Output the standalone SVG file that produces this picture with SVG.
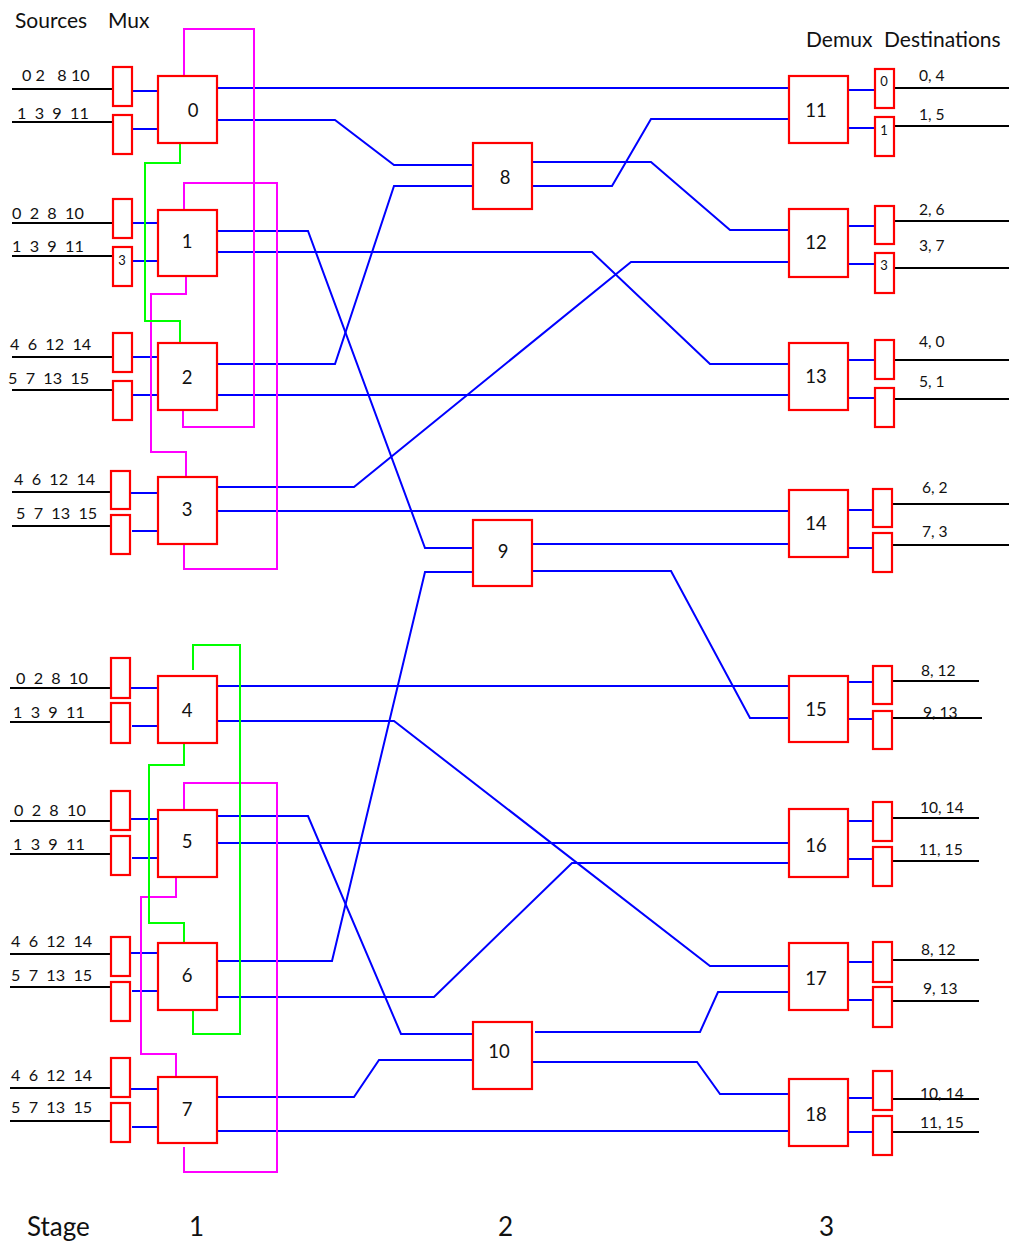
<svg xmlns="http://www.w3.org/2000/svg" width="1009" height="1243" viewBox="0 0 1009 1243">
<style>
text{font-family:Lato,"Open Sans","Liberation Sans",sans-serif;fill:#111;white-space:pre}
.sw{fill:#fff;stroke:#ff0000;stroke-width:2.2}
.mx{fill:#fff;stroke:#ff0000;stroke-width:2.2}
.bl{fill:none;stroke:#0000ff;stroke-width:2}
.bk{fill:none;stroke:#000;stroke-width:2}
.mg{fill:none;stroke:#ff00ff;stroke-width:2}
.gr{fill:none;stroke:#00ff00;stroke-width:2}
.lab{font-size:18.5px;text-anchor:middle;dominant-baseline:central}
.src{font-size:16.2px;dominant-baseline:central}
.dst{font-size:15.6px;dominant-baseline:central}
.tiny{font-size:13px;text-anchor:middle;dominant-baseline:central}
.hd{font-size:21px;dominant-baseline:central}
.st{font-size:26px;dominant-baseline:central}
</style>
<rect width="1009" height="1243" fill="#fff"/>

<g id="headers">
<text class="hd" x="15" y="19">Sources</text>
<text class="hd" x="108" y="19">Mux</text>
<text class="hd" x="806" y="38">Demux</text>
<text class="hd" x="884" y="38">Destinations</text>
<text class="st" x="27" y="1226">Stage</text>
<text class="st" x="189" y="1226">1</text>
<text class="st" x="498" y="1226">2</text>
<text class="st" x="819" y="1226">3</text>
</g>

<g id="sources">
<path class="bk" d="M12,89H113M12,122H113M12,223H113M12,256H113M12,357H113M12,390H113M12,492H111M12,526H111M10,688H110M10,722H110M10,821H110M10,854H110M10,954H110M10,987H110M10,1088H110M10,1121H110"/>
<text class="src" x="22" y="74">0 2   8 10</text>
<text class="src" x="17" y="112">1  3  9  11</text>
<text class="src" x="12" y="212">0  2  8  10</text>
<text class="src" x="12" y="245">1  3  9  11</text>
<text class="src" x="10" y="343">4  6  12  14</text>
<text class="src" x="8" y="377">5  7  13  15</text>
<text class="src" x="14" y="478">4  6  12  14</text>
<text class="src" x="16" y="512">5  7  13  15</text>
<text class="src" x="16" y="677">0  2  8  10</text>
<text class="src" x="13" y="711">1  3  9  11</text>
<text class="src" x="14" y="809">0  2  8  10</text>
<text class="src" x="13" y="843">1  3  9  11</text>
<text class="src" x="11" y="940">4  6  12  14</text>
<text class="src" x="11" y="974">5  7  13  15</text>
<text class="src" x="11" y="1074">4  6  12  14</text>
<text class="src" x="11" y="1106">5  7  13  15</text>
</g>

<g id="destinations">
<path class="bk" d="M894,88H1009M894,126H1009M892,221H1009M892,268H1009M892,360H1009M892,399H1009M892,504H1009M892,545H1009M892,681H979M892,718H982M892,818H979M880,861H979M892,960H979M892,1001H979M892,1099H979M892,1132H979"/>
<text class="dst" x="919" y="75">0, 4</text>
<text class="dst" x="919" y="114">1, 5</text>
<text class="dst" x="919" y="209">2, 6</text>
<text class="dst" x="919" y="245">3, 7</text>
<text class="dst" x="919" y="341">4, 0</text>
<text class="dst" x="919" y="381">5, 1</text>
<text class="dst" x="922" y="487">6, 2</text>
<text class="dst" x="922" y="531">7, 3</text>
<text class="dst" x="921" y="670">8, 12</text>
<text class="dst" x="923" y="712">9, 13</text>
<text class="dst" x="920" y="807">10, 14</text>
<text class="dst" x="919" y="849">11, 15</text>
<text class="dst" x="921" y="949">8, 12</text>
<text class="dst" x="923" y="988">9, 13</text>
<text class="dst" x="920" y="1093">10, 14</text>
<text class="dst" x="920" y="1122">11, 15</text>
</g>

<g id="connectors">
<path class="bl" d="M132,91H158M132,129H158M132,223H158M132,261H158M132,357H158M132,395H158M130,493H158M132,531H158M130,688H158M132,726H158M130,819H158M132,858H158M130,953H158M132,991H158M130,1089H158M132,1127H158"/>
<path class="bl" d="M848,90H875M848,128H875M848,226H875M848,264H875M848,360H875M848,398H875M848,510H873M848,548H873M848,682H873M848,719H873M848,821H873M848,859H873M848,962H873M848,1000H873M848,1098H873M848,1132H873"/>
<path class="bl" d="M217,88H789"/>
<path class="bl" d="M217,120H335L394,165H473"/>
<path class="bl" d="M214,231H308L425,548H473"/>
<path class="bl" d="M217,252H592L710,364H789"/>
<path class="bl" d="M217,364H335L394,186H473"/>
<path class="bl" d="M217,395H789"/>
<path class="bl" d="M217,487H354L631,262H789"/>
<path class="bl" d="M217,511H789"/>
<path class="bl" d="M217,686H789"/>
<path class="bl" d="M217,721H394L710,966H789"/>
<path class="bl" d="M214,816H308L401,1034H473"/>
<path class="bl" d="M217,843H789"/>
<path class="bl" d="M214,961H332L425,572H473"/>
<path class="bl" d="M217,997H434L572,863H789"/>
<path class="bl" d="M217,1097H354L379,1060H473"/>
<path class="bl" d="M217,1131H789"/>
<path class="bl" d="M532,162H651L730,230H789"/>
<path class="bl" d="M532,186H612L651,119H789"/>
<path class="bl" d="M532,544H789"/>
<path class="bl" d="M532,571H671L750,718H789"/>
<path class="bl" d="M535,1032H700L718,992H789"/>
<path class="bl" d="M532,1062H697L720,1094H789"/>
<path class="mg" d="M184,76V29H254V427H183V408"/>
<path class="mg" d="M184,210V183H277V569H184V544"/>
<path class="mg" d="M186,272V294H151V452H186V477"/>
<path class="mg" d="M184,809V783H277V1172H184V1147"/>
<path class="mg" d="M176,877V897H141V1054H176V1077"/>
<path class="gr" d="M180,143V163H145V321H180V343"/>
<path class="gr" d="M193,670V645H240V1034H193V1010"/>
<path class="gr" d="M184,743V765H149V923H184V943"/>
</g>

<g id="mux">
<rect class="mx" x="113" y="67" width="19" height="39"/>
<rect class="mx" x="113" y="115" width="19" height="39"/>
<rect class="mx" x="113" y="199" width="19" height="39"/>
<rect class="mx" x="113" y="247" width="19" height="39"/>
<text class="tiny" x="122" y="260">3</text>
<rect class="mx" x="113" y="333" width="19" height="39"/>
<rect class="mx" x="113" y="381" width="19" height="39"/>
<rect class="mx" x="111" y="471" width="19" height="38"/>
<rect class="mx" x="111" y="515" width="19" height="39"/>
<rect class="mx" x="111" y="658" width="19" height="40"/>
<rect class="mx" x="111" y="703" width="19" height="40"/>
<rect class="mx" x="111" y="791" width="19" height="39"/>
<rect class="mx" x="111" y="836" width="19" height="39"/>
<rect class="mx" x="111" y="937" width="19" height="39"/>
<rect class="mx" x="111" y="982" width="19" height="39"/>
<rect class="mx" x="111" y="1058" width="19" height="39"/>
<rect class="mx" x="111" y="1103" width="19" height="39"/>
</g>

<g id="demux">
<rect class="mx" x="875" y="69" width="19" height="39"/>
<text class="tiny" x="884" y="81">0</text>
<rect class="mx" x="875" y="117" width="19" height="39"/>
<text class="tiny" x="884" y="130">1</text>
<rect class="mx" x="875" y="206" width="19" height="38"/>
<rect class="mx" x="875" y="253" width="19" height="40"/>
<text class="tiny" x="884" y="265">3</text>
<rect class="mx" x="875" y="340" width="19" height="39"/>
<rect class="mx" x="875" y="388" width="19" height="39"/>
<rect class="mx" x="873" y="489" width="19" height="38"/>
<rect class="mx" x="873" y="533" width="19" height="39"/>
<rect class="mx" x="873" y="666" width="19" height="38"/>
<rect class="mx" x="873" y="711" width="19" height="38"/>
<rect class="mx" x="873" y="802" width="19" height="39"/>
<rect class="mx" x="873" y="847" width="19" height="39"/>
<rect class="mx" x="873" y="942" width="19" height="40"/>
<rect class="mx" x="873" y="987" width="19" height="40"/>
<rect class="mx" x="873" y="1071" width="19" height="39"/>
<rect class="mx" x="873" y="1116" width="19" height="39"/>
</g>

<g id="sw0"><rect class="sw" x="158" y="76" width="59" height="67"/><text class="lab" x="193" y="110">0</text></g>
<g id="sw1"><rect class="sw" x="158" y="210" width="59" height="66"/><text class="lab" x="187" y="241">1</text></g>
<g id="sw2"><rect class="sw" x="158" y="343" width="59" height="67"/><text class="lab" x="187" y="377">2</text></g>
<g id="sw3"><rect class="sw" x="158" y="477" width="59" height="67"/><text class="lab" x="187" y="509">3</text></g>
<g id="sw4"><rect class="sw" x="158" y="676" width="59" height="67"/><text class="lab" x="187" y="710">4</text></g>
<g id="sw5"><rect class="sw" x="158" y="810" width="59" height="67"/><text class="lab" x="187" y="841">5</text></g>
<g id="sw6"><rect class="sw" x="158" y="943" width="59" height="67"/><text class="lab" x="187" y="975">6</text></g>
<g id="sw7"><rect class="sw" x="158" y="1077" width="59" height="66"/><text class="lab" x="187" y="1109">7</text></g>
<g id="sw8"><rect class="sw" x="473" y="143" width="59" height="66"/><text class="lab" x="505" y="177">8</text></g>
<g id="sw9"><rect class="sw" x="473" y="520" width="59" height="66"/><text class="lab" x="503" y="551">9</text></g>
<g id="sw10"><rect class="sw" x="473" y="1022" width="59" height="67"/><text class="lab" x="499" y="1051">10</text></g>
<g id="sw11"><rect class="sw" x="789" y="76" width="59" height="67"/><text class="lab" x="816" y="110">11</text></g>
<g id="sw12"><rect class="sw" x="789" y="209" width="59" height="68"/><text class="lab" x="816" y="242">12</text></g>
<g id="sw13"><rect class="sw" x="789" y="343" width="59" height="67"/><text class="lab" x="816" y="376">13</text></g>
<g id="sw14"><rect class="sw" x="789" y="490" width="59" height="67"/><text class="lab" x="816" y="523">14</text></g>
<g id="sw15"><rect class="sw" x="789" y="676" width="59" height="66"/><text class="lab" x="816" y="709">15</text></g>
<g id="sw16"><rect class="sw" x="789" y="809" width="59" height="68"/><text class="lab" x="816" y="845">16</text></g>
<g id="sw17"><rect class="sw" x="789" y="943" width="59" height="67"/><text class="lab" x="816" y="978">17</text></g>
<g id="sw18"><rect class="sw" x="789" y="1079" width="59" height="67"/><text class="lab" x="816" y="1114">18</text></g>
</svg>
